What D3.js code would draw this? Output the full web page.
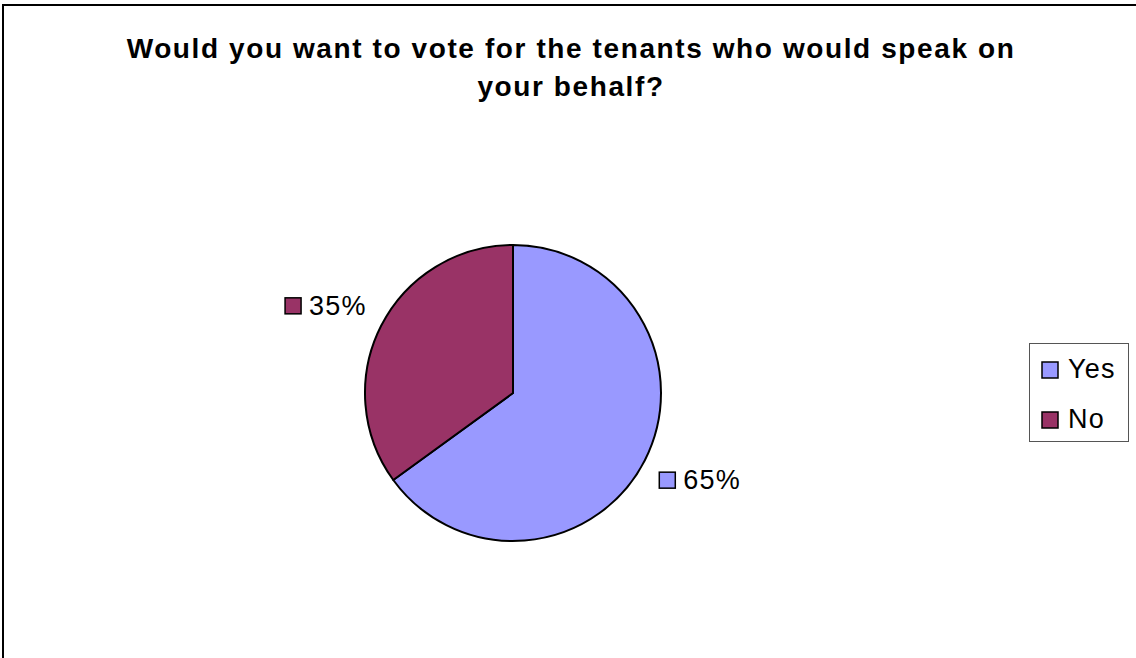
<!DOCTYPE html>
<html>
<head>
<meta charset="utf-8">
<script src="https://cdn.jsdelivr.net/npm/d3@7"></script>
<style>
  html, body { margin: 0; padding: 0; background: #fff; }
  svg { display: block; font-family: "Liberation Sans", Arial, sans-serif; }
</style>
</head>
<body>
<svg id="chart" width="1136" height="658"></svg>
<script>
// Survey answers and their shares
const categories = ["Yes", "No"];
const values = [65, 35];
const colors = ["#9999FF", "#993366"];
const titleLines = ["Would you want to vote for the tenants who would speak on", "your behalf?"];

const svg = d3.select("#chart");
const W = 1136, H = 658;

// chart frame
svg.append("rect")
  .attr("x", 3).attr("y", 5)
  .attr("width", W + 10).attr("height", H + 10)
  .attr("fill", "#fff")
  .attr("stroke", "#000")
  .attr("stroke-width", 2);

// title
const title = svg.append("text")
  .attr("text-anchor", "middle")
  .attr("font-weight", "bold")
  .attr("font-size", 28)
  .attr("letter-spacing", 1.6)
  .attr("fill", "#000");
titleLines.forEach((t, i) => {
  title.append("tspan").attr("x", 571).attr("y", 58 + i * 38).text(t);
});

// pie
const cx = 513, cy = 393, r = 148;
const color = d3.scaleOrdinal().domain(categories).range(colors);
const pie = d3.pie().sort(null).value(d => d.value);
const data = categories.map((c, i) => ({ cat: c, value: values[i] }));
const arcs = pie(data);
const arc = d3.arc().innerRadius(0).outerRadius(r);

const g = svg.append("g").attr("transform", `translate(${cx},${cy})`);
g.selectAll("path")
  .data(arcs)
  .join("path")
  .attr("d", arc)
  .attr("fill", d => color(d.data.cat))
  .attr("stroke", "#000")
  .attr("stroke-width", 2)
  .attr("stroke-linejoin", "round");

// data labels centred on an ellipse around the pie
const fmt = d3.format(".0%");
const total = d3.sum(values);
const rx = 210, ry = 192;
arcs.forEach(d => {
  const mid = (d.startAngle + d.endAngle) / 2;
  const lx = Math.sin(mid) * rx, ly = -Math.cos(mid) * ry;
  const txt = fmt(d.data.value / total);
  const lg = g.append("g");
  const t = lg.append("text")
    .attr("font-size", 27)
    .attr("letter-spacing", 1.2)
    .attr("fill", "#000")
    .text(txt);
  const tw = t.node().getComputedTextLength();
  const sw = 16, gap = 8;
  const boxW = sw + gap + tw;
  const x0 = lx - boxW / 2;
  t.attr("x", x0 + sw + gap).attr("y", ly + 9);
  lg.append("rect")
    .attr("x", x0).attr("y", ly - 8)
    .attr("width", sw).attr("height", sw)
    .attr("fill", color(d.data.cat))
    .attr("stroke", "#000")
    .attr("stroke-width", 1.5);
});

// legend
const legend = svg.append("g");
legend.append("rect")
  .attr("x", 1029.5).attr("y", 343.5)
  .attr("width", 99).attr("height", 98)
  .attr("fill", "#fff")
  .attr("stroke", "#555")
  .attr("stroke-width", 1);
categories.forEach((c, i) => {
  const y = 378 + i * 50;
  legend.append("rect")
    .attr("x", 1042).attr("y", y - 16)
    .attr("width", 16).attr("height", 16)
    .attr("fill", color(c))
    .attr("stroke", "#000")
    .attr("stroke-width", 1.5);
  legend.append("text")
    .attr("x", 1068).attr("y", y)
    .attr("font-size", 27)
    .attr("letter-spacing", 1.2)
    .attr("fill", "#000")
    .text(c);
});
</script>
</body>
</html>
